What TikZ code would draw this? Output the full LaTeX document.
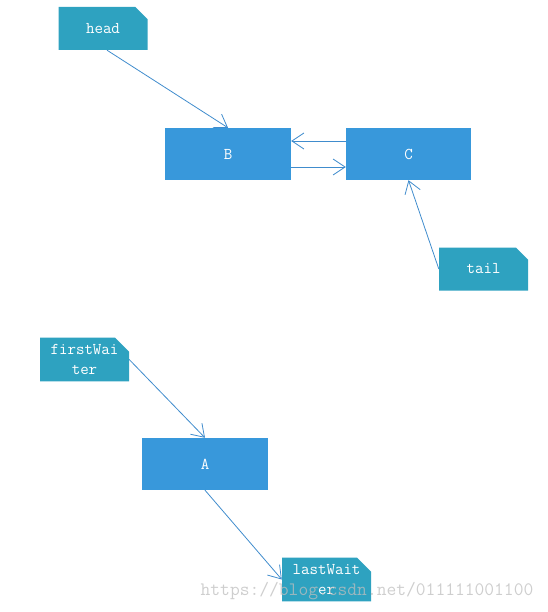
\documentclass[tikz,border=0pt]{standalone}
\usepackage{fontspec}
\usetikzlibrary{shapes.misc,arrows.meta}
\definecolor{notecol}{RGB}{46,162,192}
\definecolor{boxcol}{RGB}{56,152,219}
\definecolor{linecol}{RGB}{64,140,205}
\definecolor{markcol}{RGB}{190,190,190}
\tikzset{
  notebox/.style={chamfered rectangle, chamfered rectangle corners=north east,
    chamfered rectangle xsep=7pt, chamfered rectangle ysep=7pt,
    fill=notecol, draw=none, text=white, minimum width=89pt, minimum height=43pt,
    inner sep=0pt, align=center, font=\ttfamily\fontsize{16.5}{19.5}\selectfont},
  listbox/.style={rectangle, fill=boxcol, draw=none, text=white, minimum width=126pt,
    minimum height=52pt, inner sep=0pt, font=\ttfamily\fontsize{16.5}{17}\selectfont},
  link/.style={draw=linecol, line width=0.8pt, -{Straight Barb[length=12pt,width=16pt,line width=0.8pt]}}
}
\begin{document}
\begin{tikzpicture}[x=1pt,y=1pt]
\useasboundingbox (0,0) rectangle (547,-612);
\node[notebox] (head) at (103,-28.5) {head};
\node[listbox] (B) at (228,-154) {B};
\node[listbox, minimum width=125pt] (C) at (408.5,-154) {C};
\node[notebox] (tail) at (483.5,-269) {tail};
\node[notebox] (fw) at (84.5,-359.5) {firstWai\\ter};
\node[listbox] (A) at (205,-464) {A};
\node[notebox] (lw) at (326.5,-579.5) {lastWait\\er};
\draw[link] ([xshift=4pt]head.south) -- (B.north);
\draw[link] ([yshift=13pt]C.west) -- ([yshift=13pt]B.east);
\draw[link] ([yshift=-13pt]B.east) -- ([yshift=-13pt]C.west);
\draw[link] (tail.west) -- (C.south);
\draw[link] (fw.east) -- (A.north);
\draw[link] (A.south) -- (lw.west);
\node[text=markcol, opacity=0.75, inner sep=0pt, font=\ttfamily\fontsize{19}{19}\selectfont] (wm) at (367,-591) {https://blog.csdn.net/011111001100};
\end{tikzpicture}
\end{document}
